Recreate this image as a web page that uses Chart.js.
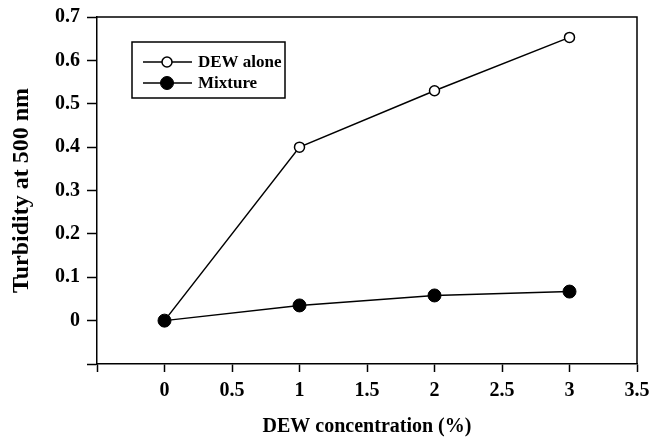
<!DOCTYPE html>
<html>
<head>
<meta charset="utf-8">
<script src="https://cdn.jsdelivr.net/npm/chart.js@4/dist/chart.umd.min.js"></script>
<style>
  html, body { margin: 0; padding: 0; background: #fff; }
  #wrap { width: 652px; height: 439px; position: relative; }
</style>
</head>
<body>
<div id="wrap"><canvas id="c"></canvas></div>
<script>
// Data
const concentrations = [0, 1, 2, 3];
const dewAlone = [0, 0.40, 0.53, 0.653];
const mixture = [0, 0.035, 0.058, 0.067];
const seriesNames = ['DEW alone', 'Mixture'];
const xTitle = 'DEW concentration (%)';
const yTitle = 'Turbidity at 500 nm';

const FONT = '"Liberation Serif", "Times New Roman", serif';

function pts(xs, ys) { return xs.map((x, i) => ({ x: x, y: ys[i] })); }

const framePlugin = {
  id: 'frame',
  afterDraw(chart) {
    const { ctx, chartArea: a } = chart;
    ctx.save();
    ctx.strokeStyle = '#000';
    ctx.lineWidth = 1.5;
    ctx.beginPath();
    ctx.moveTo(a.left, a.top);
    ctx.lineTo(a.right, a.top);
    ctx.lineTo(a.right, a.bottom);
    ctx.stroke();
    // legend box
    const bx = 132, by = 42, bw = 153, bh = 56;
    ctx.lineWidth = 1.5;
    ctx.strokeRect(bx, by, bw, bh);
    const rows = [62, 83];
    chart.data.datasets.forEach((ds, i) => {
      const y = rows[i];
      ctx.beginPath();
      ctx.lineWidth = 1.5;
      ctx.strokeStyle = '#000';
      ctx.moveTo(143, y);
      ctx.lineTo(192, y);
      ctx.stroke();
      ctx.beginPath();
      ctx.arc(167, y, ds.pointRadius, 0, Math.PI * 2);
      ctx.fillStyle = ds.pointBackgroundColor;
      ctx.fill();
      ctx.lineWidth = ds.pointBorderWidth;
      ctx.stroke();
      ctx.fillStyle = '#000';
      ctx.font = 'bold 17px ' + FONT;
      ctx.textAlign = 'left';
      ctx.textBaseline = 'middle';
      ctx.fillText(ds.label, 198, y + 1);
    });
    ctx.restore();
  }
};

new Chart(document.getElementById('c'), {
  type: 'scatter',
  data: {
    datasets: [
      {
        label: seriesNames[0],
        data: pts(concentrations, dewAlone),
        showLine: true,
        order: 2,
        borderColor: '#000',
        borderWidth: 1.5,
        pointRadius: 5,
        pointBackgroundColor: '#fff',
        pointBorderColor: '#000',
        pointBorderWidth: 1.5
      },
      {
        label: seriesNames[1],
        data: pts(concentrations, mixture),
        showLine: true,
        order: 1,
        borderColor: '#000',
        borderWidth: 1.5,
        pointRadius: 6.5,
        pointBackgroundColor: '#000',
        pointBorderColor: '#000',
        pointBorderWidth: 1
      }
    ]
  },
  options: {
    responsive: true,
    maintainAspectRatio: false,
    animation: false,
    layout: { padding: { left: 0, right: 15, top: 17, bottom: 0 } },
    plugins: { legend: { display: false }, tooltip: { enabled: false } },
    scales: {
      x: {
        type: 'linear',
        min: -0.5, max: 3.5,
        afterFit(s) { s.height = 75; s.paddingRight = 0; s.paddingLeft = 0; },
        ticks: {
          stepSize: 0.5,
          color: '#000',
          padding: 7,
          maxRotation: 0,
          font: { family: FONT, size: 20, weight: 'bold' },
          callback: (v) => (v < 0 ? '' : String(Math.round(v * 10) / 10))
        },
        grid: { drawOnChartArea: false, drawTicks: true, tickLength: 8, tickColor: '#000', tickWidth: 1.5 },
        border: { color: '#000', width: 1.5 },
        title: {
          display: true, text: xTitle, color: '#000',
          font: { family: FONT, size: 20, weight: 'bold', lineHeight: 1.2 },
          padding: { top: 0, bottom: 0 }
        }
      },
      y: {
        min: -0.1, max: 0.7,
        afterFit(s) { s.width = 97; s.paddingTop = 0; s.paddingBottom = 0; },
        ticks: {
          stepSize: 0.1,
          color: '#000',
          padding: 7,
          font: { family: FONT, size: 20, weight: 'bold' },
          callback: (v) => (v < -0.01 ? '' : String(Math.round(v * 10) / 10))
        },
        grid: { drawOnChartArea: false, drawTicks: true, tickLength: 10, tickColor: '#000', tickWidth: 1.5 },
        border: { color: '#000', width: 1.5 },
        title: {
          display: true, text: yTitle, color: '#000',
          font: { family: FONT, size: 24, weight: 'bold', lineHeight: 1.2 },
          padding: { top: 7, bottom: 0 }
        }
      }
    }
  },
  plugins: [framePlugin]
});
</script>
</body>
</html>
